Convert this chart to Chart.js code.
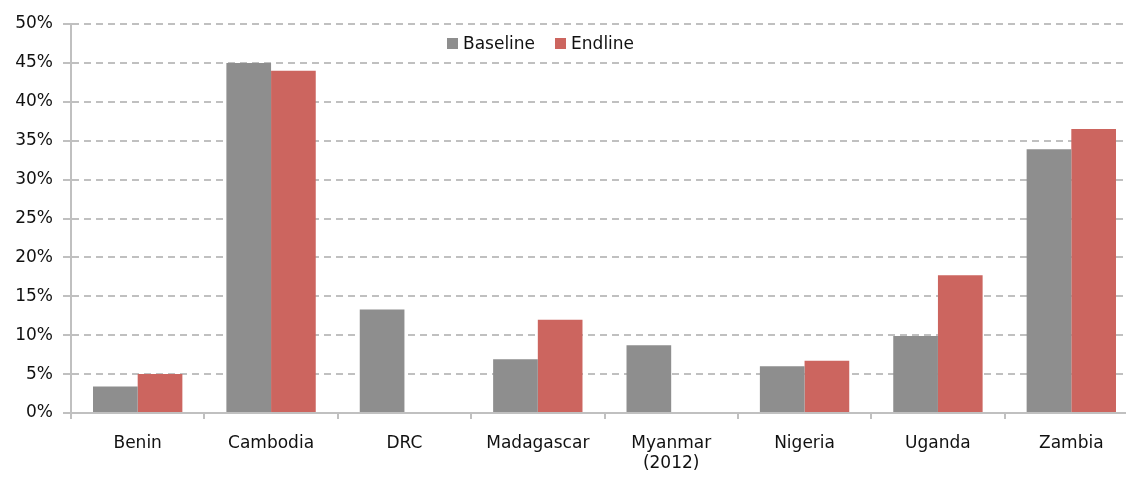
<!DOCTYPE html>
<html>
<head>
<meta charset="utf-8">
<script src="https://cdn.jsdelivr.net/npm/chart.js@4/dist/chart.umd.min.js"></script>
<style>
  html, body { margin: 0; padding: 0; background: #fff; overflow: hidden; }
  #wrap { position: relative; width: 1126px; height: 477px; overflow: hidden; }
  #chart { position: absolute; left: 0; top: 0; }
  #legend {
    position: absolute; left: 447px; top: 33px;
    font-family: "DejaVu Sans", sans-serif; font-size: 17px; color: #111;
    display: flex; align-items: center; line-height: 20px;
  }
  #legend .sw { display: inline-block; width: 11px; height: 11px; margin-right: 5px; }
  #legend .item { display: flex; align-items: center; margin-right: 20px; }
</style>
</head>
<body>
<div id="wrap">
  <canvas id="chart" width="1140" height="477"></canvas>
  <div id="legend"></div>
</div>
<script>
const categories = ['Benin', 'Cambodia', 'DRC', 'Madagascar', ['Myanmar', '(2012)'], 'Nigeria', 'Uganda', 'Zambia'];
const baseline = [3.4, 45.0, 13.3, 6.9, 8.7, 6.0, 9.9, 33.9];
const endline = [5.0, 44.0, null, 12.0, null, 6.7, 17.7, 36.5];
const seriesNames = ['Baseline', 'Endline'];
const seriesColors = ['#8e8e8e', '#cc655f'];
const yTicks = [0, 5, 10, 15, 20, 25, 30, 35, 40, 45, 50];

const font = { family: '"DejaVu Sans", sans-serif', size: 17 };
const axisGrey = '#c0c0c0';
const textColor = '#111';

// legend drawn as html text over the plot area
const legendEl = document.getElementById('legend');
seriesNames.forEach((name, i) => {
    const item = document.createElement('span');
    item.className = 'item';
    const sw = document.createElement('span');
    sw.className = 'sw';
    sw.style.background = seriesColors[i];
    item.appendChild(sw);
    item.appendChild(document.createTextNode(name));
    legendEl.appendChild(item);
});

new Chart(document.getElementById('chart'), {
    type: 'bar',
    data: {
        labels: categories,
        datasets: [{
            label: seriesNames[0],
            data: baseline,
            backgroundColor: seriesColors[0],
            categoryPercentage: 0.67,
            barPercentage: 1.0
        }, {
            label: seriesNames[1],
            data: endline,
            backgroundColor: seriesColors[1],
            categoryPercentage: 0.67,
            barPercentage: 1.0
        }]
    },
    options: {
        responsive: false,
        animation: false,
        layout: { padding: { top: 24, right: 2, left: 0, bottom: 0 } },
        plugins: {
            legend: { display: false },
            tooltip: { enabled: false }
        },
        scales: {
            x: {
                grid: {
                    drawOnChartArea: false,
                    drawTicks: true,
                    tickLength: 6,
                    color: axisGrey,
                    lineWidth: 2,
                    offset: true
                },
                border: { color: axisGrey, width: 2 },
                ticks: { color: textColor, font: font, padding: 14, maxRotation: 0 },
                afterFit: (scale) => { scale.height = 64; }
            },
            y: {
                min: 0,
                max: 50,
                afterBuildTicks: (scale) => { scale.ticks = yTicks.map(v => ({ value: v })); },
                grid: {
                    color: axisGrey,
                    lineWidth: 2,
                    tickLength: 8,
                    drawTicks: true
                },
                // dash here applies to the gridlines in v4
                border: { color: axisGrey, width: 2, dash: [7, 5] },
                ticks: {
                    color: textColor,
                    font: font,
                    padding: 10,
                    callback: (v) => v + '%'
                },
                afterFit: (scale) => { scale.width = 71; }
            }
        }
    }
});
</script>
</body>
</html>
